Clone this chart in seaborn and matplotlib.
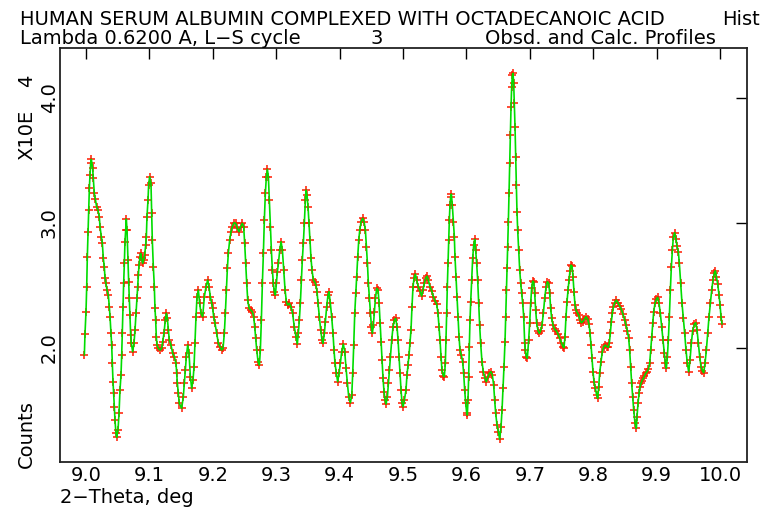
import matplotlib
matplotlib.use("Agg")
import matplotlib.pyplot as plt
import seaborn as sns
import pandas as pd

# Powder profile, 2-theta in degrees, intensity in units of 1e4 counts
two_theta = [
    8.9974, 8.9984, 9.0000, 9.0011, 9.0021, 9.0032, 9.0042, 9.0053, 9.0063, 9.0074,
    9.0084, 9.0105, 9.0116, 9.0131, 9.0147, 9.0168, 9.0189, 9.0210, 9.0221, 9.0242,
    9.0258, 9.0273, 9.0289, 9.0300, 9.0315, 9.0331, 9.0352, 9.0368, 9.0379, 9.0394,
    9.0405, 9.0415, 9.0426, 9.0436, 9.0447, 9.0457, 9.0473, 9.0484, 9.0505, 9.0521,
    9.0536, 9.0552, 9.0563, 9.0573, 9.0584, 9.0594, 9.0605, 9.0615, 9.0626, 9.0636,
    9.0647, 9.0662, 9.0673, 9.0683, 9.0694, 9.0705, 9.0715, 9.0736, 9.0757, 9.0773,
    9.0789, 9.0804, 9.0815, 9.0825, 9.0836, 9.0852, 9.0862, 9.0878, 9.0894, 9.0910,
    9.0925, 9.0941, 9.0952, 9.0962, 9.0978, 9.0988, 9.1004, 9.1025, 9.1036, 9.1046,
    9.1062, 9.1078, 9.1088, 9.1099, 9.1109, 9.1120, 9.1141, 9.1167, 9.1193, 9.1209,
    9.1230, 9.1251, 9.1267, 9.1283, 9.1299, 9.1314, 9.1341, 9.1367, 9.1393, 9.1420,
    9.1430, 9.1441, 9.1456, 9.1472, 9.1509, 9.1535, 9.1551, 9.1567, 9.1583, 9.1604,
    9.1625, 9.1646, 9.1667, 9.1688, 9.1704, 9.1719, 9.1735, 9.1751, 9.1772, 9.1793,
    9.1814, 9.1840, 9.1867, 9.1893, 9.1919, 9.1940, 9.1961, 9.1982, 9.1998, 9.2014,
    9.2035, 9.2061, 9.2088, 9.2114, 9.2140, 9.2161, 9.2182, 9.2198, 9.2214, 9.2230,
    9.2245, 9.2266, 9.2287, 9.2309, 9.2335, 9.2361, 9.2387, 9.2414, 9.2440, 9.2466,
    9.2487, 9.2503, 9.2519, 9.2535, 9.2551, 9.2572, 9.2598, 9.2624, 9.2645, 9.2661,
    9.2677, 9.2693, 9.2714, 9.2735, 9.2750, 9.2766, 9.2782, 9.2798, 9.2813, 9.2829,
    9.2845, 9.2861, 9.2877, 9.2892, 9.2908, 9.2924, 9.2940, 9.2955, 9.2971, 9.2987,
    9.3003, 9.3019, 9.3035, 9.3056, 9.3077, 9.3098, 9.3119, 9.3140, 9.3161, 9.3181,
    9.3207, 9.3233, 9.3259, 9.3285, 9.3312, 9.3333, 9.3349, 9.3365, 9.3381, 9.3397,
    9.3412, 9.3428, 9.3444, 9.3460, 9.3470, 9.3486, 9.3502, 9.3518, 9.3533, 9.3549,
    9.3565, 9.3586, 9.3607, 9.3628, 9.3644, 9.3660, 9.3681, 9.3702, 9.3723, 9.3738,
    9.3760, 9.3775, 9.3796, 9.3817, 9.3833, 9.3854, 9.3875, 9.3896, 9.3912, 9.3928,
    9.3949, 9.3970, 9.3991, 9.4012, 9.4033, 9.4059, 9.4081, 9.4102, 9.4123, 9.4144,
    9.4170, 9.4192, 9.4207, 9.4223, 9.4239, 9.4255, 9.4270, 9.4286, 9.4302, 9.4318,
    9.4339, 9.4365, 9.4386, 9.4407, 9.4423, 9.4439, 9.4454, 9.4470, 9.4486, 9.4502,
    9.4517, 9.4533, 9.4549, 9.4565, 9.4586, 9.4607, 9.4623, 9.4639, 9.4654, 9.4670,
    9.4685, 9.4701, 9.4717, 9.4733, 9.4754, 9.4770, 9.4785, 9.4801, 9.4822, 9.4843,
    9.4864, 9.4885, 9.4906, 9.4922, 9.4938, 9.4953, 9.4969, 9.4985, 9.5001, 9.5022,
    9.5047, 9.5063, 9.5079, 9.5095, 9.5110, 9.5126, 9.5142, 9.5158, 9.5174, 9.5195,
    9.5216, 9.5242, 9.5268, 9.5294, 9.5315, 9.5336, 9.5358, 9.5379, 9.5400, 9.5426,
    9.5452, 9.5479, 9.5505, 9.5531, 9.5552, 9.5568, 9.5584, 9.5600, 9.5615, 9.5636,
    9.5652, 9.5668, 9.5678, 9.5689, 9.5699, 9.5710, 9.5720, 9.5731, 9.5741, 9.5752,
    9.5763, 9.5778, 9.5794, 9.5810, 9.5820, 9.5836, 9.5852, 9.5868, 9.5884, 9.5899,
    9.5920, 9.5941, 9.5957, 9.5973, 9.5989, 9.6005, 9.6015, 9.6025, 9.6036, 9.6046,
    9.6057, 9.6068, 9.6083, 9.6099, 9.6115, 9.6131, 9.6146, 9.6162, 9.6178, 9.6194,
    9.6209, 9.6225, 9.6246, 9.6267, 9.6293, 9.6314, 9.6341, 9.6362, 9.6388, 9.6409,
    9.6430, 9.6446, 9.6462, 9.6483, 9.6504, 9.6525, 9.6546, 9.6562, 9.6578, 9.6593,
    9.6609, 9.6620, 9.6630, 9.6641, 9.6651, 9.6662, 9.6672, 9.6683, 9.6693, 9.6704,
    9.6714, 9.6725, 9.6735, 9.6746, 9.6756, 9.6767, 9.6777, 9.6788, 9.6798, 9.6809,
    9.6825, 9.6841, 9.6857, 9.6872, 9.6888, 9.6904, 9.6920, 9.6930, 9.6945, 9.6961,
    9.6982, 9.6998, 9.7014, 9.7029, 9.7045, 9.7061, 9.7077, 9.7093, 9.7109, 9.7130,
    9.7150, 9.7171, 9.7193, 9.7214, 9.7235, 9.7256, 9.7277, 9.7298, 9.7314, 9.7329,
    9.7345, 9.7366, 9.7392, 9.7419, 9.7445, 9.7471, 9.7497, 9.7524, 9.7539, 9.7555,
    9.7571, 9.7587, 9.7603, 9.7619, 9.7634, 9.7650, 9.7666, 9.7682, 9.7697, 9.7713,
    9.7729, 9.7750, 9.7771, 9.7792, 9.7813, 9.7834, 9.7861, 9.7887, 9.7913, 9.7934,
    9.7950, 9.7966, 9.7981, 9.7997, 9.8013, 9.8034, 9.8055, 9.8071, 9.8087, 9.8102,
    9.8123, 9.8144, 9.8165, 9.8192, 9.8218, 9.8239, 9.8255, 9.8270, 9.8286, 9.8302,
    9.8318, 9.8339, 9.8365, 9.8391, 9.8418, 9.8444, 9.8470, 9.8497, 9.8518, 9.8539,
    9.8560, 9.8575, 9.8591, 9.8607, 9.8623, 9.8639, 9.8660, 9.8681, 9.8691, 9.8707,
    9.8723, 9.8738, 9.8754, 9.8770, 9.8791, 9.8807, 9.8828, 9.8849, 9.8870, 9.8891,
    9.8907, 9.8923, 9.8939, 9.8954, 9.8975, 9.8996, 9.9017, 9.9038, 9.9059, 9.9080,
    9.9101, 9.9122, 9.9138, 9.9154, 9.9170, 9.9185, 9.9201, 9.9217, 9.9233, 9.9249,
    9.9264, 9.9285, 9.9306, 9.9322, 9.9343, 9.9359, 9.9380, 9.9401, 9.9422, 9.9443,
    9.9464, 9.9485, 9.9506, 9.9527, 9.9548, 9.9569, 9.9596, 9.9617, 9.9638, 9.9659,
    9.9680, 9.9701, 9.9722, 9.9743, 9.9764, 9.9785, 9.9806, 9.9827, 9.9848, 9.9869,
    9.9890, 9.9911, 9.9927, 9.9943, 9.9964, 9.9985, 10.0001, 10.0016, 10.0032,
]

counts_e4 = [
    1.941, 2.109, 2.288, 2.483, 2.728, 2.923, 3.099, 3.275, 3.381, 3.475,
    3.507, 3.435, 3.355, 3.235, 3.187, 3.128, 3.101, 3.048, 2.968, 2.888,
    2.835, 2.715, 2.648, 2.555, 2.515, 2.461, 2.421, 2.328, 2.248, 2.115,
    2.021, 1.875, 1.728, 1.635, 1.528, 1.421, 1.315, 1.283, 1.341, 1.475,
    1.661, 1.781, 1.941, 2.115, 2.328, 2.515, 2.675, 2.848, 2.941, 3.029,
    2.941, 2.701, 2.528, 2.395, 2.261, 2.101, 2.035, 1.968, 2.035, 2.141,
    2.275, 2.395, 2.488, 2.581, 2.661, 2.728, 2.755, 2.715, 2.675, 2.701,
    2.741, 2.821, 2.888, 3.048, 3.181, 3.301, 3.368, 3.315, 3.075, 2.861,
    2.648, 2.488, 2.315, 2.221, 2.088, 2.021, 1.995, 1.981, 1.995, 2.048,
    2.115, 2.221, 2.275, 2.235, 2.141, 2.061, 2.021, 1.955, 1.928, 1.875,
    1.795, 1.715, 1.635, 1.555, 1.515, 1.608, 1.715, 1.821, 1.928, 2.021,
    1.955, 1.768, 1.675, 1.741, 1.848, 2.035, 2.248, 2.408, 2.461, 2.355,
    2.275, 2.248, 2.408, 2.488, 2.541, 2.488, 2.408, 2.355, 2.315, 2.248,
    2.195, 2.115, 2.035, 2.008, 1.981, 1.995, 2.115, 2.275, 2.461, 2.635,
    2.755, 2.861, 2.928, 2.968, 3.000, 2.995, 2.955, 2.928, 2.968, 2.995,
    2.968, 2.835, 2.675, 2.515, 2.381, 2.315, 2.301, 2.288, 2.248, 2.168,
    2.075, 1.981, 1.888, 1.861, 1.981, 2.221, 2.515, 2.755, 3.021, 3.235,
    3.368, 3.427, 3.368, 3.181, 2.968, 2.781, 2.621, 2.515, 2.448, 2.421,
    2.515, 2.608, 2.675, 2.781, 2.848, 2.781, 2.621, 2.461, 2.368, 2.341,
    2.355, 2.328, 2.275, 2.168, 2.088, 2.029, 2.115, 2.221, 2.355, 2.541,
    2.701, 2.835, 2.995, 3.181, 3.261, 3.221, 3.128, 2.995, 2.861, 2.715,
    2.621, 2.541, 2.528, 2.501, 2.448, 2.355, 2.248, 2.141, 2.061, 2.035,
    2.115, 2.208, 2.328, 2.421, 2.448, 2.355, 2.248, 2.115, 1.981, 1.875,
    1.795, 1.728, 1.795, 1.875, 1.968, 2.029, 1.968, 1.835, 1.715, 1.608,
    1.560, 1.621, 1.795, 2.021, 2.275, 2.435, 2.568, 2.728, 2.861, 2.941,
    3.008, 3.035, 3.008, 2.941, 2.808, 2.675, 2.515, 2.395, 2.275, 2.168,
    2.115, 2.181, 2.288, 2.395, 2.475, 2.461, 2.355, 2.195, 2.048, 1.901,
    1.755, 1.648, 1.581, 1.549, 1.608, 1.715, 1.821, 1.928, 2.061, 2.168,
    2.221, 2.235, 2.168, 2.061, 1.928, 1.795, 1.661, 1.560, 1.528, 1.581,
    1.661, 1.781, 1.861, 1.941, 2.035, 2.141, 2.328, 2.488, 2.555, 2.589,
    2.541, 2.483, 2.456, 2.413, 2.461, 2.515, 2.555, 2.573, 2.541, 2.488,
    2.456, 2.408, 2.376, 2.349, 2.275, 2.168, 2.061, 1.928, 1.821, 1.773,
    1.768, 1.875, 2.061, 2.275, 2.488, 2.675, 2.861, 3.021, 3.141, 3.208,
    3.229, 3.141, 3.008, 2.888, 2.728, 2.568, 2.408, 2.248, 2.088, 1.981,
    1.941, 1.888, 1.795, 1.661, 1.555, 1.475, 1.461, 1.581, 1.768, 2.008,
    2.221, 2.368, 2.541, 2.715, 2.821, 2.867, 2.781, 2.675, 2.541, 2.355,
    2.181, 2.035, 1.888, 1.808, 1.755, 1.728, 1.768, 1.795, 1.808, 1.781,
    1.701, 1.581, 1.475, 1.381, 1.328, 1.267, 1.368, 1.501, 1.675, 1.848,
    2.048, 2.248, 2.461, 2.635, 2.808, 3.008, 3.235, 3.475, 3.701, 3.928,
    4.088, 4.181, 4.195, 4.115, 3.955, 3.768, 3.528, 3.301, 3.088, 2.941,
    2.781, 2.621, 2.515, 2.435, 2.355, 2.248, 2.035, 1.981, 1.928, 1.915,
    2.061, 2.195, 2.355, 2.475, 2.533, 2.528, 2.435, 2.301, 2.195, 2.136,
    2.115, 2.136, 2.181, 2.275, 2.395, 2.483, 2.528, 2.515, 2.435, 2.315,
    2.235, 2.181, 2.147, 2.136, 2.109, 2.075, 2.040, 2.008, 2.000, 2.088,
    2.248, 2.368, 2.461, 2.541, 2.616, 2.661, 2.653, 2.568, 2.448, 2.341,
    2.301, 2.280, 2.261, 2.221, 2.200, 2.208, 2.227, 2.248, 2.227, 2.189,
    2.115, 2.021, 1.915, 1.808, 1.728, 1.675, 1.621, 1.595, 1.688, 1.795,
    1.888, 1.968, 2.008, 2.021, 2.008, 2.003, 2.040, 2.115, 2.208, 2.275,
    2.323, 2.360, 2.381, 2.360, 2.333, 2.307, 2.269, 2.221, 2.181, 2.136,
    2.075, 1.981, 1.848, 1.715, 1.608, 1.501, 1.395, 1.355, 1.448, 1.555,
    1.635, 1.688, 1.715, 1.736, 1.755, 1.773, 1.795, 1.808, 1.827, 1.875,
    1.981, 2.088, 2.195, 2.288, 2.355, 2.387, 2.403, 2.355, 2.275, 2.168,
    2.061, 1.955, 1.875, 1.835, 1.928, 2.061, 2.248, 2.461, 2.648, 2.781,
    2.883, 2.920, 2.867, 2.813, 2.768, 2.675, 2.515, 2.355, 2.235, 2.115,
    1.981, 1.875, 1.808, 1.901, 2.035, 2.136, 2.189, 2.200, 2.141, 2.035,
    1.928, 1.848, 1.816, 1.800, 1.875, 1.981, 2.115, 2.248, 2.355, 2.461,
    2.541, 2.600, 2.616, 2.568, 2.509, 2.421, 2.341, 2.248, 2.189,
]

x_ticks = [9.0, 9.1, 9.2, 9.3, 9.4, 9.5, 9.6, 9.7, 9.8, 9.9, 10.0]
x_tick_labels = ["9.0", "9.1", "9.2", "9.3", "9.4", "9.5", "9.6", "9.7", "9.8", "9.9", "10.0"]
y_ticks = [2.0, 3.0, 4.0]
y_tick_labels = ["2.0", "3.0", "4.0"]

profile = pd.DataFrame({"two_theta": two_theta, "counts": counts_e4})

sns.set_theme(style="white")
plt.rcParams["font.family"] = ["DejaVu Sans"]

W, H = 784, 509
fig = plt.figure(figsize=(W / 100, H / 100), dpi=100)
fig.patch.set_facecolor("white")

# axes frame in pixel units
left, right, top, bottom = 60, 747, 48, 462
ax = fig.add_axes([left / W, 1 - bottom / H, (right - left) / W, (bottom - top) / H])
ax.set_facecolor("white")

# observed points then calculated profile
sns.scatterplot(data=profile, x="two_theta", y="counts", ax=ax, marker="+",
                color="#ff1a00", s=34, linewidth=1.1, legend=False, zorder=2)
sns.lineplot(data=profile, x="two_theta", y="counts", ax=ax, color="#00dd00",
             linewidth=1.2, sort=False, estimator=None, legend=False, zorder=3)

ax.set_xlim(8.959, 10.0426)
ax.set_ylim(1.0856, 4.398)
ax.set_xlabel("")
ax.set_ylabel("")

fs = 14

ax.set_xticks(x_ticks)
ax.set_xticklabels(x_tick_labels)
ax.set_yticks(y_ticks)
ax.set_yticklabels(y_tick_labels, rotation=90, va="center")
ax.tick_params(axis="both", direction="in", length=8, width=1.0, color="black",
               top=True, right=True, labelsize=fs, labelcolor="black")
ax.tick_params(axis="x", pad=3)
ax.tick_params(axis="y", pad=1)
for s in ax.spines.values():
    s.set_color("#222222")
    s.set_linewidth(1.3)
    s.set_visible(True)


def ptext(x, y, s, **kw):
    fig.text(x / W, 1 - y / H, s, fontsize=fs, color="black", **kw)


ptext(20, 25, "HUMAN SERUM ALBUMIN COMPLEXED WITH OCTADECANOIC ACID", va="baseline")
ptext(722, 25, "Hist", va="baseline")
ptext(20, 44.5, "Lambda 0.6200 A, L\u2212S cycle", va="baseline")
ptext(370, 44.5, "3", va="baseline")
ptext(485, 44.5, "Obsd. and Calc. Profiles", va="baseline")
ptext(60, 503, "2\u2212Theta, deg", va="baseline")
ptext(27, 135, "X10E", rotation=90, ha="center", va="center")
ptext(27, 81, "4", rotation=90, ha="center", va="center")
ptext(26, 434, "Counts", rotation=90, ha="center", va="center")

fig.savefig("out.png", dpi=100, facecolor="white")
